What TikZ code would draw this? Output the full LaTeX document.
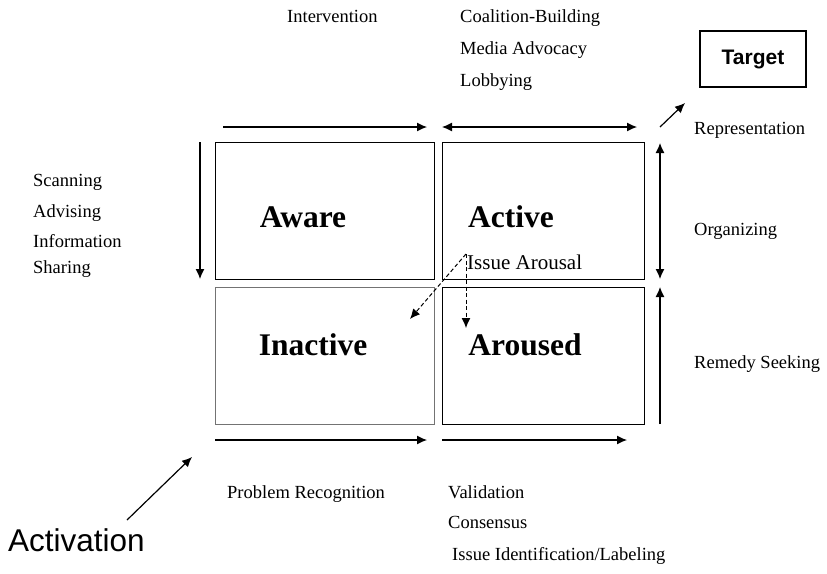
\documentclass[tikz,border=0pt]{standalone}
\usepackage{fontspec}
\setmainfont{Liberation Serif}
\newfontfamily\arialfont{Liberation Sans}
\usetikzlibrary{arrows.meta}
\begin{document}
\begin{tikzpicture}[x=1pt,y=-1pt,
  box/.style={draw, line width=1.2pt, inner sep=0pt, anchor=north west},
  lbl/.style={anchor=base west, inner sep=0pt, font=\fontsize{18.5}{20}\selectfont},
  big/.style={inner sep=0pt, font=\fontsize{31.5}{34}\selectfont\bfseries},
  arr/.style={line width=1.2pt, -{Latex[length=10pt,width=9pt]}},
  darr/.style={line width=1.2pt, {Latex[length=10pt,width=9pt]}-{Latex[length=10pt,width=9pt]}},
  dasharr/.style={line width=1pt, dash pattern=on 4pt off 2.5pt, -{Latex[length=10pt,width=9pt]}}
]
\useasboundingbox (0,0) rectangle (827,573);
\fill[white] (0,0) rectangle (827,573);

% boxes
\node[box, minimum width=219pt, minimum height=137pt] (aware) at (215,142) {};
\node[box, minimum width=202pt, minimum height=137pt] (active) at (442,142) {};
\node[box, draw=black!55, line width=0.9pt, minimum width=219pt, minimum height=137pt] (inactive) at (215,287) {};
\node[box, minimum width=202pt, minimum height=137pt] (aroused) at (442,287) {};

\node[big] (awarelbl) at (303,217) {Aware};
\node[big] (activelbl) at (511,217) {Active};
\node[big] (inactivelbl) at (313,345) {Inactive};
\node[big] (arousedlbl) at (525,345) {Aroused};

% target
\node[draw, line width=1.1pt, minimum width=106pt, minimum height=56pt, inner sep=0pt,
      font=\arialfont\bfseries\fontsize{21}{24}\selectfont] (target) at (753,59) {Target};

% arrow end points
\coordinate (t1s) at (223,127); \coordinate (t1e) at (427,127);
\coordinate (t2s) at (442,127); \coordinate (t2e) at (637,127);
\coordinate (lvs) at (200,142); \coordinate (lve) at (200,279);
\coordinate (rvs) at (660,143); \coordinate (rve) at (660,279);
\coordinate (r2s) at (660,424); \coordinate (r2e) at (660,287);
\coordinate (b1s) at (215,440); \coordinate (b1e) at (427,440);
\coordinate (b2s) at (442,440); \coordinate (b2e) at (627,440);
\coordinate (reps) at (660,127); \coordinate (repe) at (685,103);
\coordinate (acts) at (127,520); \coordinate (acte) at (192,457);
\coordinate (ia) at (466,254); \coordinate (ia1) at (410,319); \coordinate (ia2) at (466,328);

\draw[arr] (t1s) -- (t1e);
\draw[darr] (t2s) -- (t2e);
\draw[arr] (lvs) -- (lve);
\draw[darr] (rvs) -- (rve);
\draw[arr] (r2s) -- (r2e);
\draw[arr] (b1s) -- (b1e);
\draw[arr] (b2s) -- (b2e);
\draw[arr] (reps) -- (repe);
\draw[arr] (acts) -- (acte);
\draw[dasharr] (ia) -- (ia1);
\draw[dasharr] (ia) -- (ia2);

% labels
\node[lbl] (interv) at (287,22) {Intervention};
\node[lbl] (coal) at (460,22) {Coalition-Building};
\node[lbl] (media) at (460,54) {Media Advocacy};
\node[lbl] (lobby) at (460,86) {Lobbying};
\node[lbl] (repr) at (694,134) {Representation};
\node[lbl] (org) at (694,235) {Organizing};
\node[lbl] (remedy) at (694,368) {Remedy Seeking};
\node[lbl] (scan) at (33,186) {Scanning};
\node[lbl] (adv) at (33,217) {Advising};
\node[lbl] (info) at (33,247) {Information};
\node[lbl] (shar) at (33,273) {Sharing};
\node[lbl] (probrec) at (227,498) {Problem Recognition};
\node[lbl] (valid) at (448,498) {Validation};
\node[lbl] (cons) at (448,528) {Consensus};
\node[lbl] (issueid) at (452,560) {Issue Identification/Labeling};
\node[lbl, font=\fontsize{21}{24}\selectfont] (issuear) at (467,269) {Issue Arousal};
\node[anchor=base west, inner sep=0pt, font=\arialfont\fontsize{31.5}{34}\selectfont] (activation) at (8,551) {Activation};
\end{tikzpicture}
\end{document}
